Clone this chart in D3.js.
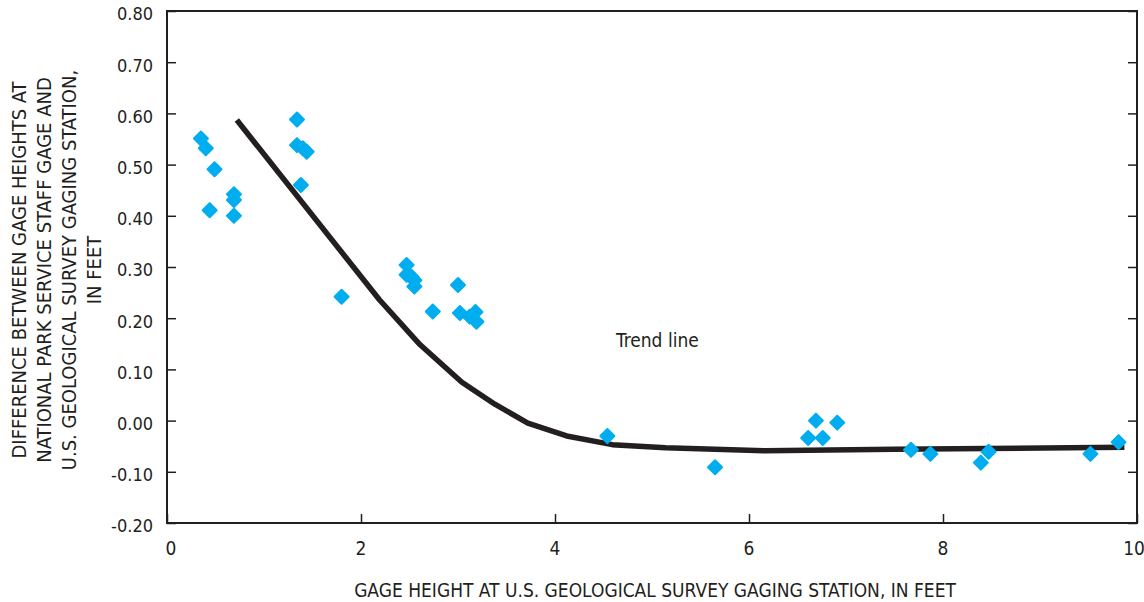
<!DOCTYPE html>
<html>
<head>
<meta charset="utf-8">
<script src="https://cdn.jsdelivr.net/npm/d3@7"></script>
<style>
  html, body { margin: 0; padding: 0; background: #fff; }
  svg { display: block; }
  text { font-family: "Liberation Sans Narrow", "DejaVu Sans Condensed", "Arial Narrow", sans-serif; fill: #231f20; }
</style>
</head>
<body>
<svg id="chart" width="1144" height="602"></svg>
<script>
// Observed points: gage height at USGS station (ft) vs difference (ft)
const gageHeight = [0.35, 0.40, 0.49, 0.44, 0.69, 0.69, 0.69, 1.34, 1.34, 1.40, 1.44, 1.38, 1.80,
  2.47, 2.47, 2.52, 2.55, 2.55, 2.74, 3.00, 3.02, 3.12, 3.18, 3.19,
  4.54, 5.65, 6.69, 6.61, 6.76, 6.91, 7.67, 7.87, 8.39, 8.47, 9.52, 9.81];
const difference = [0.551, 0.532, 0.491, 0.411, 0.442, 0.431, 0.400, 0.588, 0.538, 0.532, 0.525, 0.460, 0.242,
  0.304, 0.285, 0.281, 0.274, 0.262, 0.213, 0.265, 0.210, 0.203, 0.212, 0.193,
  -0.030, -0.091, 0.000, -0.034, -0.034, -0.004, -0.057, -0.065, -0.082, -0.061, -0.065, -0.042];

// Trend line vertices
const trendX = [0.72, 2.19, 2.61, 3.04, 3.38, 3.72, 4.12, 4.59, 5.14, 6.16, 7.50, 9.87];
const trendY = [0.587, 0.236, 0.148, 0.075, 0.032, -0.005, -0.030, -0.047, -0.053, -0.059, -0.056, -0.052];

const xTicks = [0, 2, 4, 6, 8, 10];
const yTicks = [-0.2, -0.1, 0, 0.1, 0.2, 0.3, 0.4, 0.5, 0.6, 0.7, 0.8];

const xTitle = "GAGE HEIGHT AT U.S. GEOLOGICAL SURVEY GAGING STATION, IN FEET";
const yTitleLines = ["DIFFERENCE BETWEEN GAGE HEIGHTS AT",
  "NATIONAL PARK SERVICE STAFF GAGE AND",
  "U.S. GEOLOGICAL SURVEY GAGING STATION,",
  "IN FEET"];
const annotation = "Trend line";

const svg = d3.select("#chart");
const L = 167, R = 1137, T = 11, B = 523;
const x = d3.scaleLinear().domain([0, 10]).range([L, R]);
const y = d3.scaleLinear().domain([-0.2, 0.8]).range([B, T]);
const ink = "#231f20";

// frame
svg.append("rect").attr("x", L).attr("y", T).attr("width", R - L).attr("height", B - T)
  .attr("fill", "none").attr("stroke", ink).attr("stroke-width", 2);

// axes with inward ticks
const fmt = d => d3.format(".2f")(d).replace("\u2212", "-");
const yAxisL = svg.append("g").attr("transform", `translate(${L},0)`)
  .call(d3.axisRight(y).tickValues(yTicks).tickSize(9).tickFormat(""));
const yAxisR = svg.append("g").attr("transform", `translate(${R},0)`)
  .call(d3.axisLeft(y).tickValues(yTicks).tickSize(9).tickFormat(""));
const xAxisB = svg.append("g").attr("transform", `translate(0,${B})`)
  .call(d3.axisTop(x).tickValues(xTicks).tickSize(9).tickFormat(""));
[yAxisL, yAxisR, xAxisB].forEach(g => {
  g.select(".domain").remove();
  g.selectAll(".tick line").attr("stroke", ink).attr("stroke-width", 1.5);
});

// tick labels
svg.append("g").selectAll("text").data(yTicks).join("text")
  .attr("x", L - 14).attr("y", d => y(d) + 3).attr("dy", "0.35em")
  .attr("text-anchor", "end").attr("font-size", 18)
  .text(d => fmt(d));
svg.append("g").selectAll("text").data(xTicks).join("text")
  .attr("x", d => x(d) + (d === 0 ? 4 : (d === 10 ? -3 : 0))).attr("y", 555)
  .attr("text-anchor", "middle").attr("font-size", 19)
  .text(d => d);

// titles
svg.append("text").attr("x", 655).attr("y", 597).attr("text-anchor", "middle")
  .attr("font-size", 19).text(xTitle);
const yt = svg.append("text").attr("transform", "translate(0,270) rotate(-90)")
  .attr("text-anchor", "middle").attr("font-size", 20);
yTitleLines.forEach((s, i) => {
  yt.append("tspan").attr("x", 0).attr("y", 26 + i * 25).text(s);
});

// annotation
svg.append("text").attr("x", 616).attr("y", 347).attr("font-size", 19).text(annotation);

// trend line
const trend = trendX.map((v, i) => [v, trendY[i]]);
svg.append("path").datum(trend)
  .attr("d", d3.line().x(d => x(d[0])).y(d => y(d[1])))
  .attr("fill", "none").attr("stroke", ink).attr("stroke-width", 5.5)
  .attr("stroke-linejoin", "round");

// diamonds
const pts = gageHeight.map((v, i) => [v, difference[i]]);
svg.append("g").selectAll("path").data(pts).join("path")
  .attr("transform", d => `translate(${x(d[0])},${y(d[1])})`)
  .attr("d", "M0,-7L7,0L0,7L-7,0Z")
  .attr("fill", "#00aeef").attr("stroke", "#00aeef").attr("stroke-width", 2)
  .attr("stroke-linejoin", "round");
</script>
</body>
</html>
